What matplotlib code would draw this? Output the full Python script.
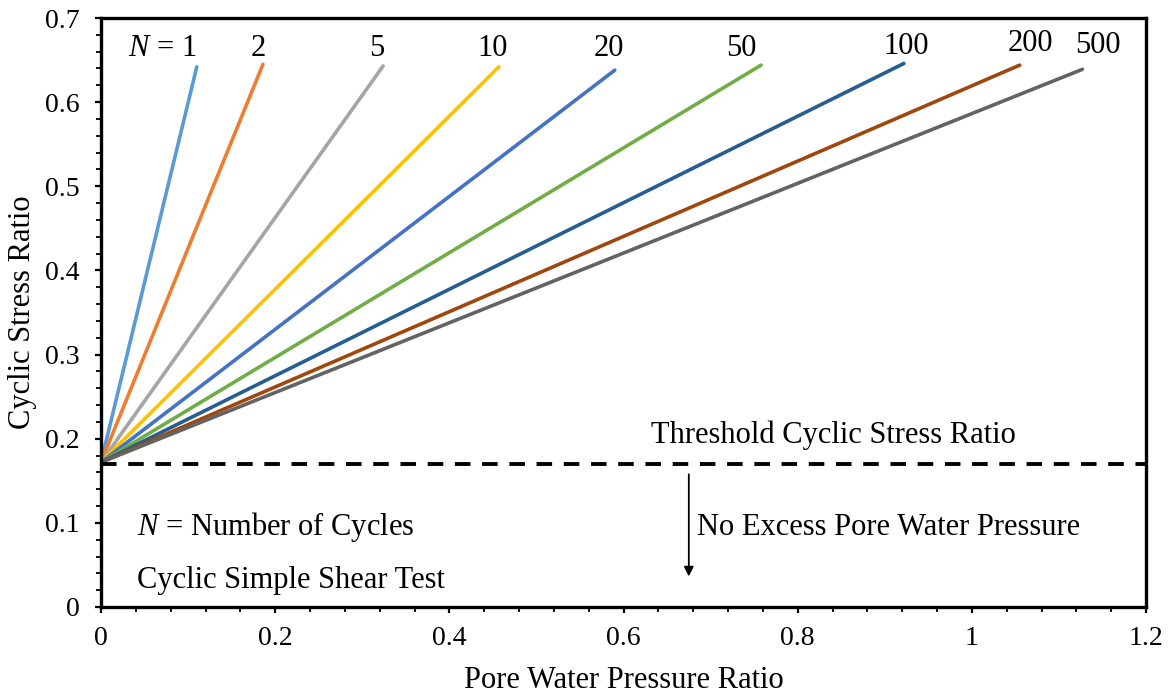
import matplotlib
matplotlib.use("Agg")
import matplotlib.pyplot as plt
from matplotlib.ticker import MultipleLocator

plt.rcParams['font.family'] = ['Liberation Serif', 'DejaVu Serif']
plt.rcParams['mathtext.fontset'] = 'custom'
plt.rcParams['mathtext.it'] = 'Liberation Serif:italic'
plt.rcParams['mathtext.rm'] = 'Liberation Serif'

# Data
cycles = ["1", "2", "5", "10", "20", "50", "100", "200", "500"]
start_x = 0.0
start_y = 0.172
end_x = [0.110, 0.186, 0.324, 0.457, 0.590, 0.758, 0.922, 1.055, 1.127]
end_y = [0.642, 0.645, 0.643, 0.642, 0.638, 0.644, 0.646, 0.644, 0.639]
colors = ['#5B9BD5', '#ED7D31', '#A5A5A5', '#FFC000', '#4472C4',
          '#70AD47', '#255E91', '#9E480E', '#636363']
label_x = [0.109, 0.180, 0.317, 0.450, 0.583, 0.735, 0.924, 1.067, 1.145]
label_y = [0.664, 0.664, 0.664, 0.664, 0.664, 0.664, 0.666, 0.670, 0.667]
threshold = 0.17

FS = 22

fig = plt.figure(figsize=(11.71, 6.94), dpi=100)
ax = fig.add_axes([101/1171, 1-607/694, (1146-101)/1171, (607-18)/694])

for i, n in enumerate(cycles):
    ax.plot([start_x, end_x[i]], [start_y, end_y[i]], color=colors[i], lw=2.6,
            solid_capstyle='round')
    if i == 0:
        ax.text(label_x[i], label_y[i], r"$N$ = " + n, ha='right', va='center', fontsize=FS)
    else:
        ax.text(label_x[i], label_y[i], n, ha='center', va='center', fontsize=FS)

ax.axhline(threshold, color='black', lw=2.8, ls=(0, (4, 3)))

ax.text(0.632, 0.204, "Threshold Cyclic Stress Ratio", ha='left', va='center', fontsize=FS)
ax.text(0.041, 0.095, r"$N$ = Number of Cycles", ha='left', va='center', fontsize=FS)
ax.text(0.041, 0.032, "Cyclic Simple Shear Test", ha='left', va='center', fontsize=FS)
ax.text(0.684, 0.095, "No Excess Pore Water Pressure", ha='left', va='center', fontsize=FS)
ax.annotate("", xy=(0.675, 0.033), xytext=(0.675, 0.161),
            arrowprops=dict(arrowstyle='-|>', color='black', lw=1.3,
                            mutation_scale=14))

ax.set_xlim(0, 1.2)
ax.set_ylim(0, 0.7)
ax.xaxis.set_minor_locator(MultipleLocator(0.04))
ax.yaxis.set_minor_locator(MultipleLocator(0.02))
ax.set_xticks([0, 0.2, 0.4, 0.6, 0.8, 1.0, 1.2])
ax.set_xticklabels(["0", "0.2", "0.4", "0.6", "0.8", "1", "1.2"])
ax.set_yticks([0, 0.1, 0.2, 0.3, 0.4, 0.5, 0.6, 0.7])
ax.set_yticklabels(["0", "0.1", "0.2", "0.3", "0.4", "0.5", "0.6", "0.7"])
ax.tick_params(which='major', direction='out', length=4.5, width=1.6, labelsize=20)
ax.tick_params(which='minor', direction='out', length=3.5, width=1.3)
ax.tick_params(axis='x', which='major', pad=9)
ax.tick_params(axis='y', which='major', pad=11)
for s in ax.spines.values():
    s.set_linewidth(2.4)

ax.set_xlabel("Pore Water Pressure Ratio", fontsize=22, labelpad=11)
ax.set_ylabel("Cyclic Stress Ratio", fontsize=22, labelpad=6)

fig.savefig("out.png", dpi=100)
